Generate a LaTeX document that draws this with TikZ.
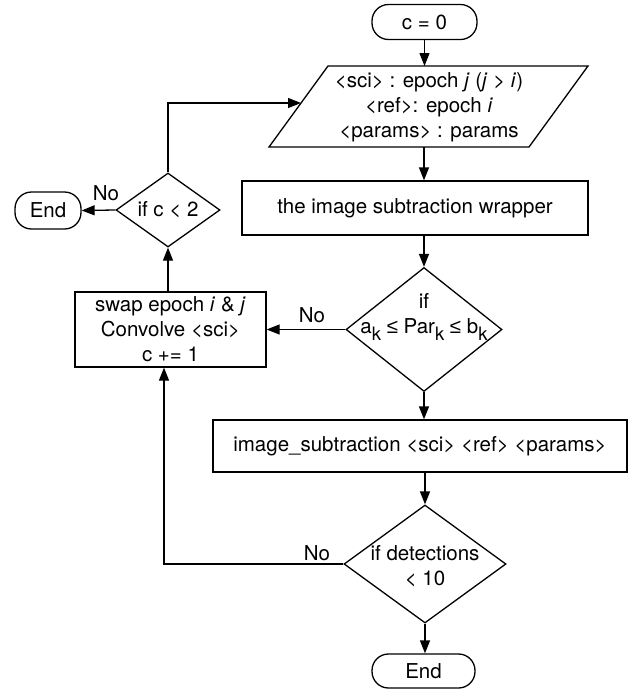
\documentclass[tikz,border=0pt]{standalone}
\usepackage{fontspec}
\setmainfont{TeX Gyre Heros}
\newfontfamily\symfont{Liberation Sans}
\usetikzlibrary{shapes.geometric,arrows.meta}
\newcommand{\sbk}[1]{\raisebox{-0.35em}{\fontsize{18.5}{18.5}\selectfont #1}}
\newcommand{\leqs}{{\symfont ≤}}
\begin{document}
\begin{tikzpicture}[x=1pt,y=-1pt, line width=1.3pt,
 font=\fontsize{20.5}{25}\selectfont,
 arr/.style={-{Triangle[length=13pt,width=10pt]}},
 term/.style={draw, rectangle, rounded corners=16.5pt, inner sep=0pt},
 proc/.style={draw, rectangle, inner sep=0pt, align=center},
 dec/.style={draw, diamond, inner sep=0pt},
 txt/.style={align=center, inner sep=0pt},
 lbl/.style={inner sep=0pt}]
\useasboundingbox (0,0) rectangle (638,689);
% parallelogram corners
\coordinate (pTL) at (328,66);
\coordinate (pTR) at (588,66);
\coordinate (pBR) at (529,147);
\coordinate (pBL) at (269,147);
\coordinate (pin) at (301,103);
\draw (pTL) -- (pTR) -- (pBR) -- (pBL) -- cycle;
% nodes
\node[term, minimum width=105pt, minimum height=35pt] (start) at (424.5,22) {c = 0};
\node[txt] (parat) at (429,107) {<sci> : epoch \textit{j} (\textit{j} > \textit{i})\\<ref>: epoch \textit{i}\\<params> : params};
\node[proc, minimum width=346pt, minimum height=54pt] (wrap) at (415,208) {the image subtraction wrapper};
\node[dec, minimum width=156pt, minimum height=124pt] (d1) at (424,329.5) {};
\node[txt] (d1t) at (424,317) {if\\a\sbk{k} \leqs{} Par\sbk{k} \leqs{} b\sbk{k}};
\node[proc, minimum width=414pt, minimum height=52pt] (isub) at (420,446) {image\_subtraction <sci> <ref> <params>};
\node[dec, minimum width=162pt, minimum height=118pt] (d2) at (425,564) {};
\node[txt] (d2t) at (425,566) {if detections\\< 10};
\node[term, minimum width=103pt, minimum height=34pt] (endB) at (423.5,671) {End};
\node[proc, minimum width=191pt, minimum height=75pt] (swap) at (170.5,329.5) {swap epoch \textit{i} \& \textit{j}\\Convolve <sci>\\c += 1};
\node[dec, minimum width=104pt, minimum height=74pt] (d0) at (168,210) {};
\node[txt] (d0t) at (168,210) {if c < 2};
\node[term, minimum width=66pt, minimum height=37pt] (endL) at (48,210.5) {End};
\coordinate (cL) at (164,564);
% labels
\node[lbl] (no1) at (312,315) {No};
\node[lbl] (no2) at (106,193) {No};
\node[lbl] (no3) at (317,553) {No};
% connectors
\draw[arr] (start.south) -- (start.south |- pTL);
\draw[arr] (pBL -| d1) -- (wrap.north -| d1);
\draw[arr] (wrap.south -| d1) -- (d1.north);
\draw[arr] (d1.south) -- (isub.north -| d1);
\draw[arr] (isub.south -| d2) -- (d2.north);
\draw[arr] (d2.south) -- (endB.north -| d2);
\draw[arr] (d1.west) -- (swap.east |- d1.west);
\draw[arr] (d0.west) -- (endL.east);
\draw[arr] (swap.north -| d0) -- (d0.south);
\draw[arr] (d0.north) |- (pin);
\draw[arr] (d2.west) -- (cL) -- (cL |- swap.south);
\end{tikzpicture}
\end{document}
